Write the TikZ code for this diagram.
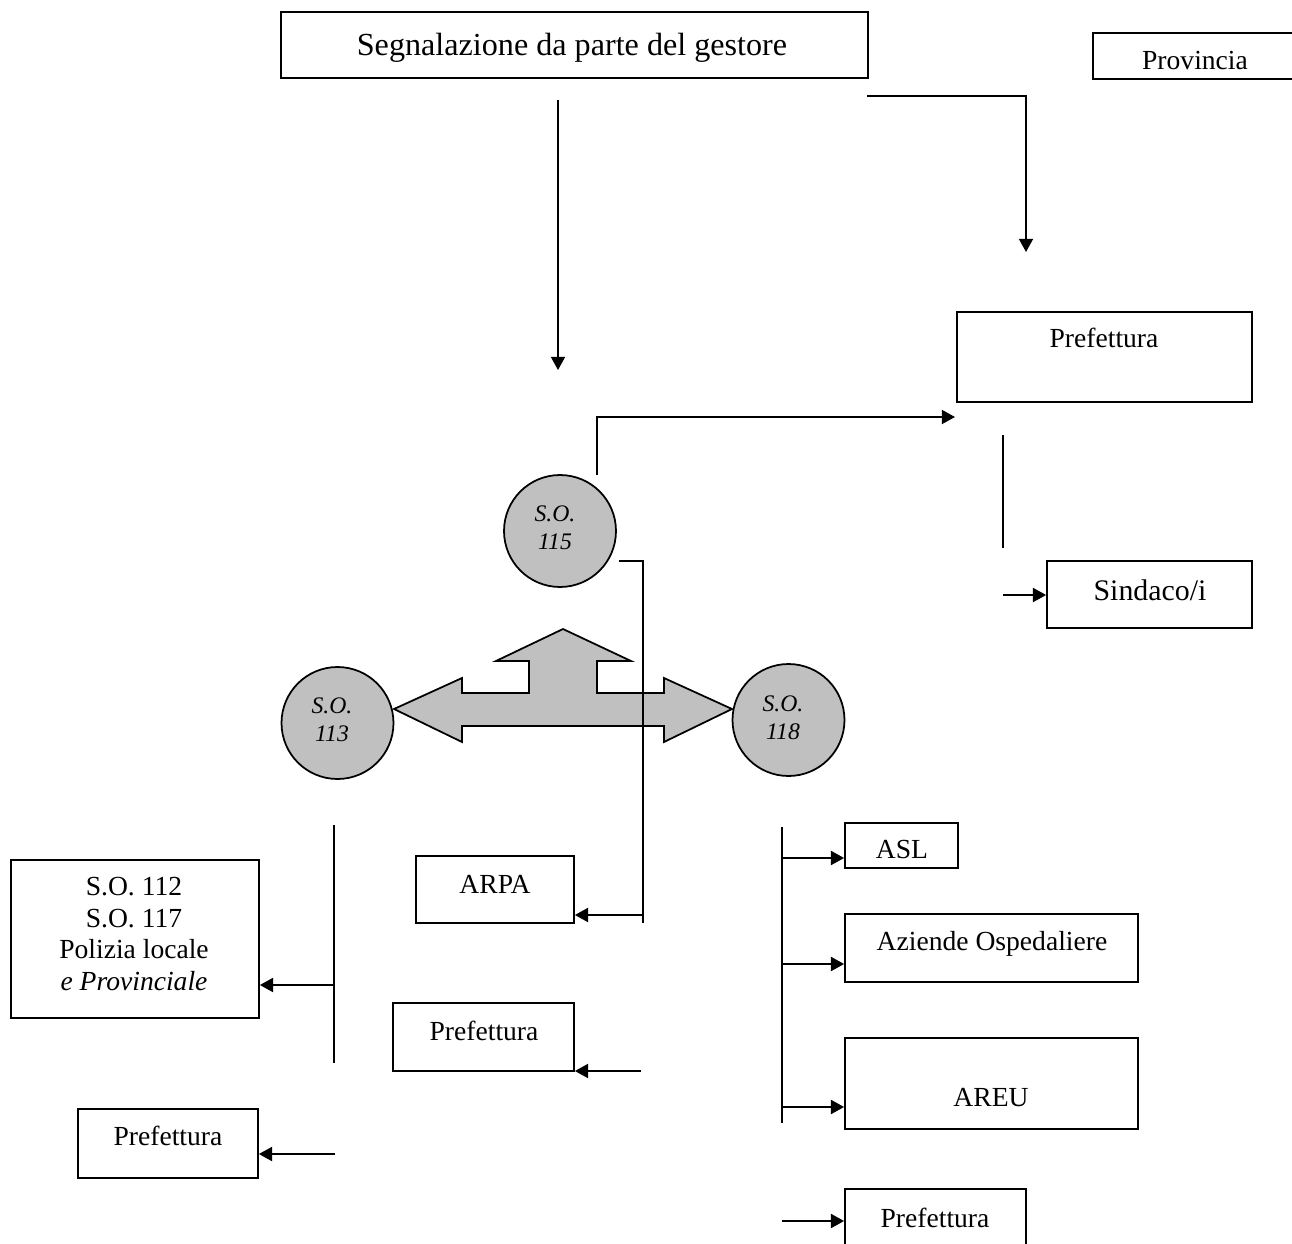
\documentclass[tikz,border=0pt]{standalone}
\usepackage{fontspec}
\setmainfont{Liberation Serif}
\usetikzlibrary{arrows.meta,fit}
\definecolor{sogray}{RGB}{192,192,192}
\begin{document}
\begin{tikzpicture}[x=0.02cm,y=-0.02cm,
  box/.style={draw,line width=1pt,inner sep=0pt},
  txt/.style={inner sep=0pt,anchor=base,font=\fontsize{15.7}{18.1}\selectfont},
  bigtxt/.style={inner sep=0pt,anchor=base,font=\fontsize{18.3}{21}\selectfont},
  midtxt/.style={inner sep=0pt,anchor=base,font=\fontsize{17}{20}\selectfont},
  circ/.style={circle,draw,line width=1pt,fill=sogray,inner sep=0pt,minimum size=2.24cm},
  clab/.style={inner sep=0pt,align=center,font=\fontsize{13.5}{15.9}\selectfont\itshape},
  ln/.style={line width=1pt},
  arr/.style={line width=1pt,-{Triangle[length=7.5pt,width=8pt]}}
]
\useasboundingbox (0,0) rectangle (1292,1244);

% ---- boxes ----
\node[box,fit={(281,12)(868,78)}] (gest) {};
\node[bigtxt] (gestT) at (572,55) {Segnalazione da parte del gestore};

\node[box,fit={(1093,33)(1297,79)}] (prov) {};
\node[txt] (provT) at (1195,69) {Provincia};

\node[box,fit={(957,312)(1252,402)}] (prefTR) {};
\node[txt] (prefTRT) at (1104,347) {Prefettura};

\node[box,fit={(1047,561)(1252,628)}] (sind) {};
\node[midtxt] (sindT) at (1150,600) {Sindaco/i};

\node[box,fit={(416,856)(574,923)}] (arpa) {};
\node[txt] (arpaT) at (495,893) {ARPA};

\node[box,fit={(393,1003)(574,1071)}] (prefM) {};
\node[txt] (prefMT) at (484,1040) {Prefettura};

\node[box,fit={(11,860)(259,1018)}] (so112) {};
\node[inner sep=0pt,align=center,font=\fontsize{15.7}{18.1}\selectfont] (so112T) at (134,934)
  {S.O. 112\\S.O. 117\\Polizia locale\\\textit{e Provinciale}};

\node[box,fit={(78,1109)(258,1178)}] (prefBL) {};
\node[txt] (prefBLT) at (168,1145) {Prefettura};

\node[box,fit={(845,823)(958,868)}] (asl) {};
\node[txt] (aslT) at (902,858) {ASL};

\node[box,fit={(845,914)(1138,982)}] (azi) {};
\node[txt] (aziT) at (992,950) {Aziende Ospedaliere};

\node[box,fit={(845,1038)(1138,1129)}] (areu) {};
\node[txt] (areuT) at (991,1106) {AREU};

\node[box,fit={(845,1189)(1026,1262)}] (prefBR) {};
\node[txt] (prefBRT) at (935,1227) {Prefettura};

% ---- big grey three-way arrow ----
\filldraw[ln,fill=sogray,line join=miter]
  (394,709) -- (462,678) -- (462,693) -- (529,693) -- (529,661) -- (496,661)
  -- (563,629) -- (631,661) -- (597,661) -- (597,693) -- (664,693) -- (664,678)
  -- (732,709) -- (664,742) -- (664,726) -- (462,726) -- (462,742) -- cycle;

% ---- circles ----
\node[circ] (so115) at (560,531) {};
\node[clab] (so115T) at (555,528) {S.O.\\115};
\node[circ] (so113) at (337.5,723) {};
\node[clab] (so113T) at (332,720) {S.O.\\113};
\node[circ] (so118) at (788.5,720) {};
\node[clab] (so118T) at (783,718) {S.O.\\118};

% ---- connector coordinates ----
\coordinate (c1a) at (558,100);
\coordinate (c1b) at (558,370);
\coordinate (c2a) at (867,96);
\coordinate (c2b) at (1026,252);
\coordinate (c3a) at (597,475);
\coordinate (c3b) at (955,417);
\coordinate (c4a) at (1003,435);
\coordinate (c4b) at (1003,548);
\coordinate (c5a) at (1003,595);
\coordinate (c6a) at (619,561);
\coordinate (c6b) at (643,923);
\coordinate (c6c) at (643,915);
\coordinate (c7a) at (641,1071);
\coordinate (c8a) at (334,825);
\coordinate (c8b) at (334,1063);
\coordinate (c8c) at (334,985);
\coordinate (c9a) at (335,1154);
\coordinate (c10a) at (782,827);
\coordinate (c10b) at (782,1123);
\coordinate (c10c) at (782,858);
\coordinate (c10d) at (782,964);
\coordinate (c10e) at (782,1107);
\coordinate (c11a) at (782,1221);

% ---- connectors ----
\draw[arr] (c1a) -- (c1b);
\draw[arr] (c2a) -| (c2b);
\draw[arr] (c3a) |- (c3b);
\draw[ln] (c4a) -- (c4b);
\draw[arr] (c5a) -- (c5a -| sind.west);
\draw[ln] (c6a) -| (c6b);
\draw[arr] (c6c) -- (c6c -| arpa.east);
\draw[arr] (c7a) -- (c7a -| prefM.east);
\draw[ln] (c8a) -- (c8b);
\draw[arr] (c8c) -- (c8c -| so112.east);
\draw[arr] (c9a) -- (c9a -| prefBL.east);
\draw[ln] (c10a) -- (c10b);
\draw[arr] (c10c) -- (c10c -| asl.west);
\draw[arr] (c10d) -- (c10d -| azi.west);
\draw[arr] (c10e) -- (c10e -| areu.west);
\draw[arr] (c11a) -- (c11a -| prefBR.west);
\end{tikzpicture}
\end{document}
